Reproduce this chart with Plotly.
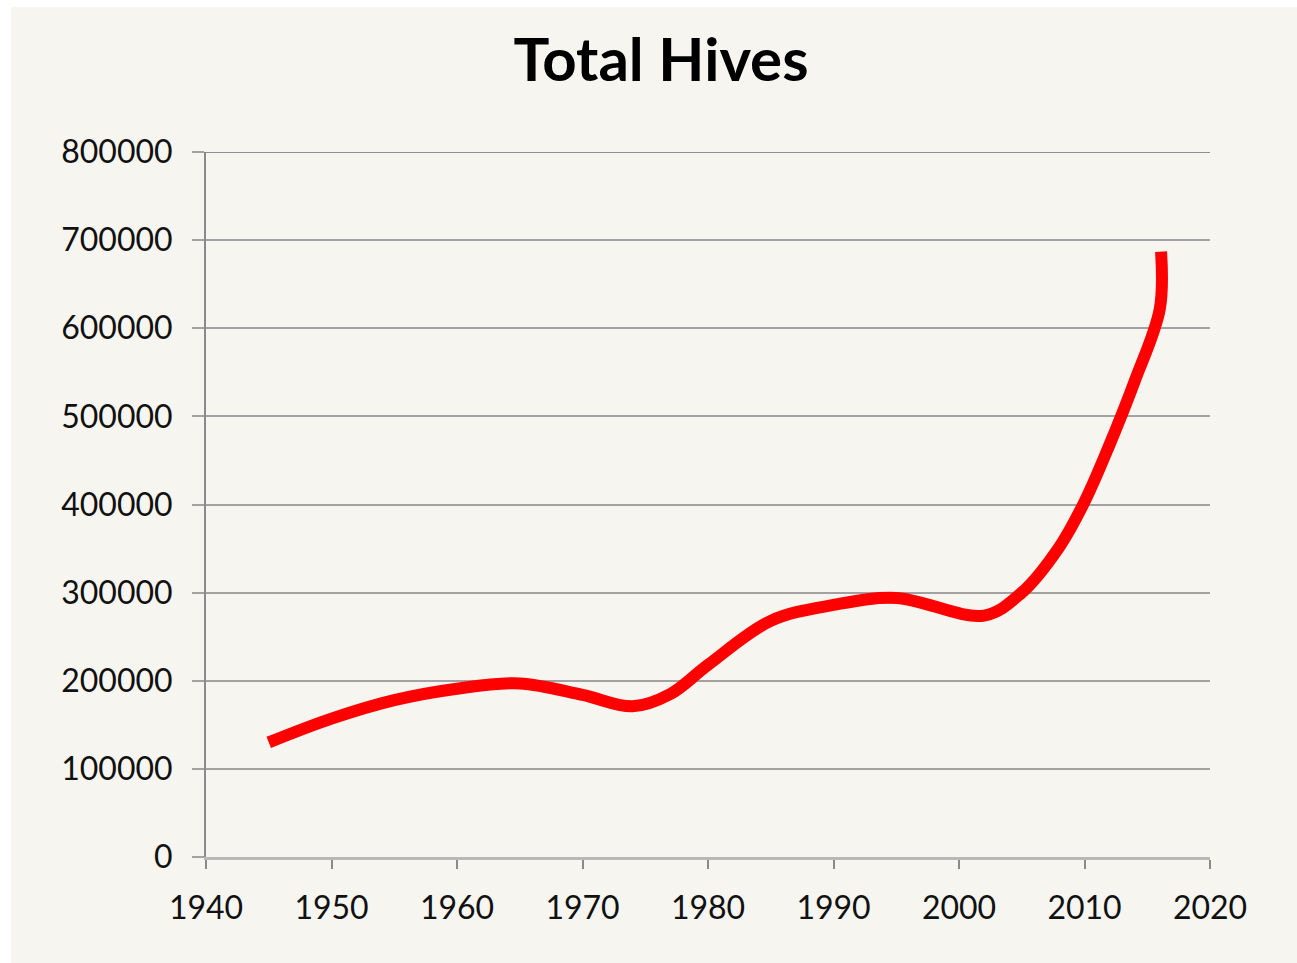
import plotly.graph_objects as go

years = [1945, 1950, 1955, 1960, 1965, 1970, 1974, 1977, 1980, 1985, 1990, 1995, 2002, 2005, 2008, 2010, 2012, 2014, 2016, 2016.1]
hives = [130000, 157000, 178000, 191000, 197000, 184000, 171000, 185000, 218000, 268000, 286000, 294000, 274000, 300000, 352000, 403000, 468000, 540000, 622000, 687000]

title_text = "Total Hives"
x_ticks = [1940, 1950, 1960, 1970, 1980, 1990, 2000, 2010, 2020]
y_ticks = [0, 100000, 200000, 300000, 400000, 500000, 600000, 700000, 800000]

W, H = 1297, 963
L, R, T, B = 206, 1210, 152, 857
pw, ph = R - L, B - T

fig = go.Figure()
fig.add_trace(go.Scatter(
    x=years, y=hives, mode="lines",
    line=dict(color="#FF0000", width=12, shape="spline", smoothing=1.0),
    hoverinfo="x+y", showlegend=False,
))

# beige panel (white strip on top and left)
fig.add_shape(type="rect", xref="paper", yref="paper",
              x0=(11 - L) / pw, x1=(W + 5 - L) / pw,
              y0=(B - (H + 5)) / ph, y1=(B - 7) / ph,
              fillcolor="#F6F5F0", line=dict(width=0), layer="below")
# top gridline at range edge
fig.add_shape(type="line", xref="paper", yref="y", x0=0, x1=1,
              y0=y_ticks[-1], y1=y_ticks[-1],
              line=dict(color="#8E8E8E", width=2), layer="below")

font_fam = "Lato, 'Open Sans', sans-serif"

fig.update_layout(
    width=W, height=H,
    margin=dict(l=L, r=W - R, t=T, b=H - B, pad=0),
    paper_bgcolor="#FFFFFF",
    plot_bgcolor="rgba(0,0,0,0)",
    title=dict(text="<b>" + title_text + "</b>", xref="container", yref="container",
               x=661 / W, y=1 - 60 / H, xanchor="center", yanchor="middle",
               font=dict(family=font_fam, size=60, color="#000000")),
    font=dict(family=font_fam, size=32, color="#111111"),
    xaxis=dict(range=[1940, 2020], tickvals=x_ticks, ticktext=[str(v) for v in x_ticks],
               showgrid=False, zeroline=False,
               showline=True, linecolor="#B8B8B8", linewidth=3,
               ticks="outside", ticklen=9, tickwidth=2, tickcolor="#8A8A8A",
               ticklabelstandoff=12,
               tickfont=dict(family=font_fam, size=32, color="#111111"),
               fixedrange=True),
    yaxis=dict(range=[0, 800000], tickvals=y_ticks, ticktext=[str(v) for v in y_ticks],
               showgrid=True, gridcolor="#A2A2A2", gridwidth=2,
               zeroline=False,
               showline=True, linecolor="#8A8A8A", linewidth=2,
               ticks="outside", ticklen=12, tickwidth=2, tickcolor="#A2A2A2",
               ticklabelstandoff=13,
               tickfont=dict(family=font_fam, size=32, color="#111111"),
               fixedrange=True),
)

fig.write_html("out.html", config={"displayModeBar": False},
               post_script="document.body.style.margin='0';document.body.style.overflow='hidden';")
